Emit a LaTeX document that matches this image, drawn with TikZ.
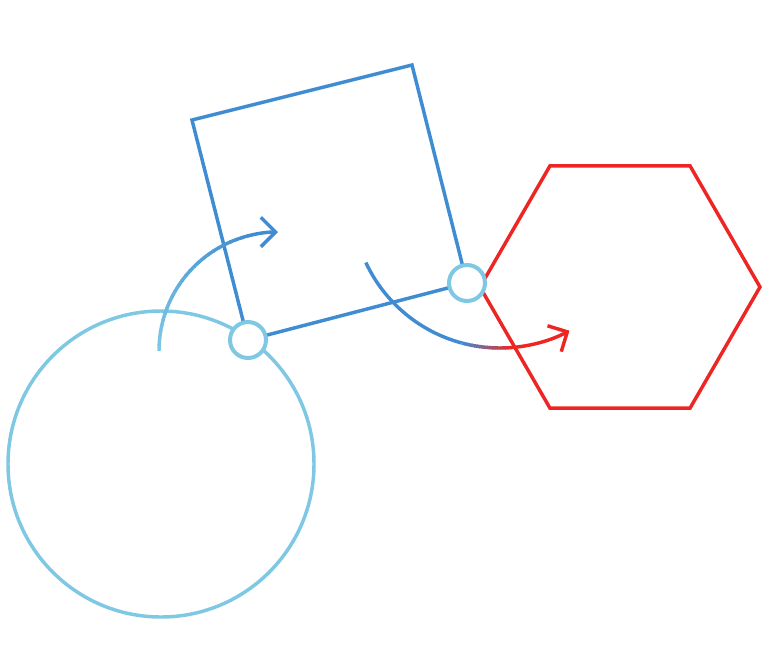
\documentclass[tikz,border=0pt]{standalone}
\usepackage{tikz}
\usetikzlibrary{arrows.meta}
\definecolor{ringblue}{RGB}{126,200,228}
\definecolor{boxblue}{RGB}{64,140,210}
\definecolor{hexred}{RGB}{237,38,36}

\begin{document}
\begin{tikzpicture}[x=0.75pt,y=0.75pt,yscale=-1,xscale=1,
  edge/.style={line width=2.6pt},
  barb/.style={-{Straight Barb[length=11pt,width=22pt]}},
  joint/.style={circle,draw=ringblue,fill=white,line width=3pt,minimum size=27pt,inner sep=0pt}]
\useasboundingbox (0,0) rectangle (768,651);

%Shape: Circle [big ring]
\draw [edge,color=ringblue] (161,464) circle [radius=153];

%Shape: Square [tilted box]
\coordinate (sqTL) at (192,120);
\coordinate (sqTR) at (412,65);
\coordinate (sqBR) at (467,283);
\coordinate (sqBL) at (248,340);
\draw [edge,color=boxblue,line join=miter] (sqTL) -- (sqTR) -- (sqBR) -- (sqBL) -- cycle;

%Shape: Regular Polygon [hexagon]
\draw [edge,color=hexred,line join=miter] (760,287) -- (690,165.8) -- (550,165.8) -- (480,287) -- (550,408.2) -- (690,408.2) -- cycle;

%Curve Lines [ring to box]
\foreach \a in {180,183,...,252} {
  \pgfmathtruncatemacro{\p}{(\a-180)/75*100}
  \draw [edge,color=boxblue!\p!ringblue] ([shift={(278,351)}]\a:119) arc [start angle=\a,delta angle=3.5,radius=119];
}
\draw [edge,barb,color=boxblue] ([shift={(278,351)}]255:119) arc [start angle=255,end angle=270,radius=119];

%Curve Lines [box to hexagon]
\draw [edge,color=boxblue] ([shift={(500,200)}]155:148) arc [start angle=155,end angle=105,radius=148];
\foreach \a in {105,104,...,87} {
  \pgfmathtruncatemacro{\p}{(105-\a)/19*100}
  \draw [edge,color=hexred!\p!boxblue] ([shift={(500,200)}]\a:148) arc [start angle=\a,delta angle=-1.3,radius=148];
}
\draw [edge,barb,color=hexred] ([shift={(500,200)}]86:148) arc [start angle=86,end angle=62,radius=148];

% Joints
\node [joint] (jointA) at (sqBL) {};
\node [joint] (jointB) at (sqBR) {};

\end{tikzpicture}
\end{document}
